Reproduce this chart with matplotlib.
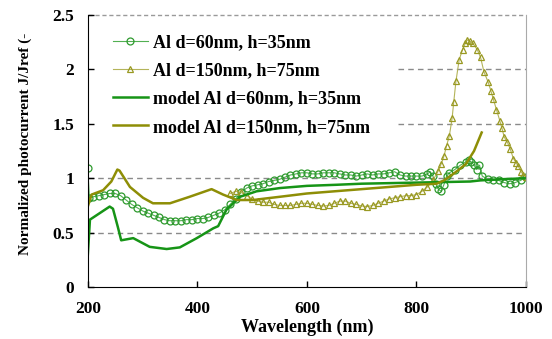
import matplotlib
matplotlib.use('Agg')
import matplotlib.pyplot as plt
import numpy as np

# --- data ---
wl_exp60 = [200, 203, 210, 220, 230, 240, 250, 260, 270, 280, 290, 300, 310, 320, 330,
            340, 350, 360, 370, 380, 390, 400, 410, 420, 430, 440, 450, 460, 470, 480,
            490, 500, 510, 520, 530, 540, 550, 560, 570, 580, 590, 600, 610, 620, 630,
            640, 650, 660, 670, 680, 690, 700, 710, 720, 730, 740, 750, 760, 770, 780,
            790, 800, 810, 820, 825, 830, 835, 840, 845, 850, 855, 860, 870, 880, 890,
            895, 900, 905, 910, 915, 920, 930, 940, 950, 960, 970, 980, 990, 1000]
exp60 = [1.09, 0.82, 0.83, 0.84, 0.85, 0.86, 0.86, 0.84, 0.80, 0.76, 0.73, 0.70, 0.68, 0.66, 0.64,
         0.62, 0.61, 0.61, 0.61, 0.62, 0.62, 0.63, 0.63, 0.64, 0.66, 0.68, 0.71, 0.76, 0.81, 0.87,
         0.91, 0.93, 0.94, 0.95, 0.97, 0.98, 0.99, 1.01, 1.03, 1.04, 1.05, 1.05, 1.04, 1.04, 1.05,
         1.05, 1.05, 1.04, 1.03, 1.03, 1.02, 1.03, 1.04, 1.03, 1.04, 1.04, 1.05, 1.06, 1.03, 1.02,
         1.02, 1.02, 1.02, 1.04, 1.06, 1.02, 0.95, 0.90, 0.88, 0.94, 1.02, 1.05, 1.08, 1.12, 1.15,
         1.17, 1.15, 1.12, 1.08, 1.12, 1.02, 0.99, 0.98, 0.98, 0.96, 0.95, 0.96, 0.98, 1.01]

wl_exp150 = [460, 470, 480, 490, 500, 510, 520, 530, 540, 550, 560, 570, 580, 590, 600,
             610, 620, 630, 640, 650, 660, 670, 680, 690, 700, 710, 720, 730, 740, 750,
             760, 770, 780, 790, 800, 810, 820, 830, 840, 845, 850, 855, 860, 865, 868,
             872, 878, 884, 889, 893, 897, 903, 911, 917, 923, 931, 936, 940, 946, 952,
             956, 960, 966, 971, 977, 982, 986, 991, 995, 1000]
exp150 = [0.86, 0.88, 0.87, 0.84, 0.81, 0.79, 0.78, 0.78, 0.76, 0.75, 0.75, 0.75, 0.76, 0.77, 0.77,
          0.76, 0.75, 0.745, 0.75, 0.77, 0.79, 0.79, 0.77, 0.76, 0.745, 0.74, 0.75, 0.77, 0.79, 0.81,
          0.82, 0.83, 0.84, 0.84, 0.85, 0.88, 0.92, 0.98, 1.07, 1.13, 1.20, 1.30, 1.39, 1.55, 1.70,
          1.89, 2.09, 2.18, 2.24, 2.27, 2.26, 2.24, 2.18, 2.11, 1.98, 1.88, 1.80, 1.73, 1.63, 1.53,
          1.46, 1.38, 1.33, 1.27, 1.18, 1.14, 1.11, 1.06, 1.03, 1.01]

wl_mod60 = [200, 204, 222, 240, 246, 255, 261, 283, 313, 344, 368, 399, 429, 438, 453,
            478, 508, 551, 600, 654, 700, 800, 898, 916, 950, 1000]
mod60 = [0.29, 0.62, 0.68, 0.74, 0.72, 0.55, 0.43, 0.45, 0.37, 0.35, 0.365, 0.45, 0.54, 0.56, 0.71,
         0.83, 0.88, 0.91, 0.93, 0.94, 0.95, 0.96, 0.97, 0.98, 0.99, 1.00]

wl_mod150 = [200, 207, 228, 243, 254, 258, 277, 301, 319, 350, 386, 426, 447, 472, 502,
             526, 551, 600, 700, 800, 837, 850, 870, 890, 905, 919]
mod150 = [0.74, 0.85, 0.89, 0.97, 1.08, 1.07, 0.92, 0.82, 0.77, 0.77, 0.83, 0.90, 0.85, 0.80, 0.80,
          0.815, 0.83, 0.86, 0.90, 0.94, 0.95, 0.98, 1.05, 1.13, 1.25, 1.42]

labels = ['Al d=60nm, h=35nm', 'Al d=150nm, h=75nm',
          'model Al d=60nm, h=35nm', 'model Al d=150nm, h=75nm']

plt.rcParams['font.family'] = ['Liberation Serif', 'DejaVu Serif']
plt.rcParams['font.weight'] = 'bold'

fig = plt.figure(figsize=(5.52, 3.39), dpi=100)
ax = fig.add_axes([0.159, 0.153, 0.794, 0.803])

# gridlines (the upper two are hidden behind the legend on the left)
grid_kw = dict(color='#8a8a8a', lw=1, ls=(0, (4, 3)), zorder=0)
ax.axhline(0.5, **grid_kw)
ax.axhline(1.0, **grid_kw)
ax.axhline(1.5, xmin=0.708, **grid_kw)
ax.axhline(2.0, xmin=0.708, **grid_kw)
ax.axhline(2.5, color='#9a9a9a', lw=1, ls=(0, (3, 2)), zorder=0, clip_on=False)

ax.plot(wl_exp60, exp60, color='#52b052', lw=0.8, marker='o', ms=5,
        mfc='none', mec='#2e9a2e', mew=0.9, label=labels[0])
ax.plot(wl_exp150, exp150, color='#b4b45a', lw=0.8, marker='^', ms=5,
        mfc='none', mec='#999922', mew=0.9, label=labels[1])
ax.plot(wl_mod60, mod60, color='#169416', lw=1.8, label=labels[2])
ax.plot(wl_mod150, mod150, color='#8e8e06', lw=1.8, label=labels[3])

ax.set_xlim(200, 1000)
ax.set_ylim(0, 2.5)
ax.set_xticks([200, 400, 600, 800, 1000])
ax.set_yticks([0, 0.5, 1, 1.5, 2, 2.5])
ax.set_yticklabels(['0', '0.5', '1', '1.5', '2', '2.5'])
ax.tick_params(axis='both', direction='in', length=4, width=1, labelsize=12.5, pad=10)

ax.spines['top'].set_visible(False)
ax.spines['right'].set_color('#aaaaaa')
ax.spines['left'].set_color('black')
ax.spines['bottom'].set_color('black')

ax.set_xlabel('Wavelength (nm)', fontsize=13, fontweight='bold', labelpad=1)
fig.text(25 / 552, 1 - 143.5 / 339, 'Normalized photocurrent J/Jref (-',
         rotation=90, ha='center', va='center', fontsize=11, fontweight='bold')

leg = ax.legend(loc='upper left', bbox_to_anchor=(106 / 552, 1 - 27 / 339),
                bbox_transform=fig.transFigure, fontsize=13, frameon=False,
                borderpad=0.4, handlelength=1.9, handletextpad=0.3, labelspacing=0.62,
                borderaxespad=0)

fig.savefig('out.png', dpi=100)
